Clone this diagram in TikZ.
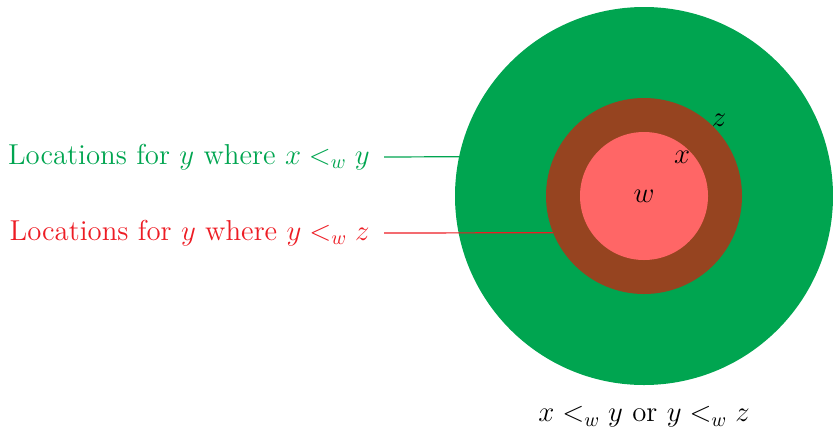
\documentclass[tikz,border=0pt]{standalone}
\usepackage{tikz}
\usetikzlibrary{positioning}
\definecolor{regiongreen}{RGB}{0,165,80}
\definecolor{regionbrown}{RGB}{150,68,32}
\definecolor{regionpink}{RGB}{255,102,102}
\definecolor{labelred}{RGB}{237,28,36}

\begin{document}
\begin{tikzpicture}[x=0.5pt, y=-0.5pt, every node/.style={font=\Large},
    region/.style={circle, inner sep=0pt, outer sep=0pt},
    pointer/.style={line width=0.6pt},
    sidelabel/.style={anchor=east, inner xsep=7pt}]
        \useasboundingbox (0,0) rectangle (833,434);
        % nested regions around w
        \node[region, fill=regiongreen, minimum size=189pt] (outer) at (644,196) {};
        \node[region, fill=regionbrown, minimum size=98pt] (middle) at (644,196) {};
        \node[region, fill=regionpink, minimum size=64pt] (inner) at (644,196) {};
        \node (w) at (644,196) {$w$};
        \node (x) at (682,157) {$x$};
        \node (z) at (719,120) {$z$};
        % labels on the left
        \node[sidelabel, text=regiongreen] (greenlbl) at (384,157)
          {Locations for $y$ where $x <_w y$};
        \node[sidelabel, text=labelred] (redlbl) at (384,233)
          {Locations for $y$ where $y <_w z$};
        \draw[pointer, regiongreen] (greenlbl.east) -- (outer.168.1);
        \draw[pointer, labelred] (redlbl.east) -- (middle.202.2);
        \node (caption) at (644,417) {$x <_w y$ or $y <_w z$};
      \end{tikzpicture}
\end{document}
